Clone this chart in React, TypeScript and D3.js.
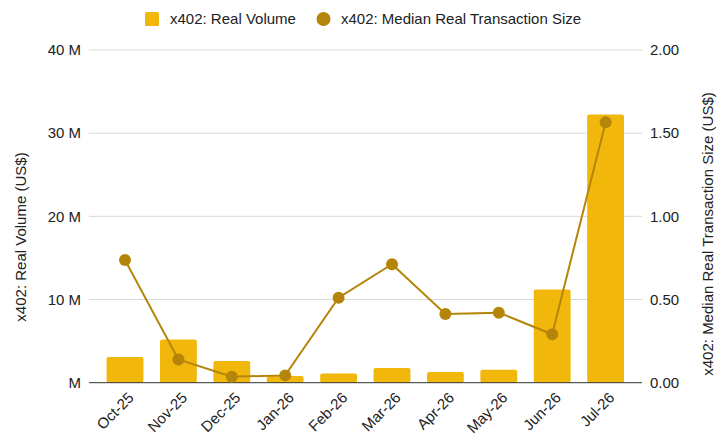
import * as d3 from 'd3';
import React, { useEffect, useRef } from 'react';

// Chart data
const months = ["Oct-25", "Nov-25", "Dec-25", "Jan-26", "Feb-26", "Mar-26", "Apr-26", "May-26", "Jun-26", "Jul-26"];
const realVolume = [3.1e6, 5.2e6, 2.6e6, 0.8e6, 1.1e6, 1.77e6, 1.29e6, 1.56e6, 11.2e6, 32.25e6];
const medianTxSize = [0.738, 0.14, 0.036, 0.044, 0.511, 0.712, 0.413, 0.421, 0.291, 1.565];
const leftTicks = [0, 10e6, 20e6, 30e6, 40e6];
const rightTicks = [0, 0.5, 1, 1.5, 2];

const barColor = "#f1b80b";
const lineColor = "#b5850a";
const font = "Liberation Sans, Arial, sans-serif";

const App: React.FC = () => {
  const ref = useRef<SVGSVGElement>(null);

  useEffect(() => {
    if (!ref.current) return;
    d3.select(ref.current).selectAll("*").remove();

    const width = 728;
    const height = 442;
    const svg = d3.select(ref.current)
      .attr("width", width)
      .attr("height", height)
      .style("font-family", font);

    const gridLeft = 89;
    const gridRight = 642;
    const top = 50;
    const bottom = 382.7;

    const x = d3.scaleBand()
      .domain(months)
      .range([98.3, 632.3])
      .paddingInner(0.31)
      .paddingOuter(0.155);

    const yL = d3.scaleLinear().domain([0, 40e6]).range([bottom, top]);
    const yR = d3.scaleLinear().domain([0, 2]).range([bottom, top]);

    // gridlines
    svg.append("g")
      .selectAll("line")
      .data(leftTicks.slice(1))
      .enter().append("line")
      .attr("x1", gridLeft)
      .attr("x2", gridRight)
      .attr("y1", d => yL(d))
      .attr("y2", d => yL(d))
      .attr("stroke", "#d9d9d9")
      .attr("stroke-width", 1);

    // left tick labels
    svg.append("g")
      .selectAll("text")
      .data(leftTicks)
      .enter().append("text")
      .attr("x", 81)
      .attr("y", d => yL(d))
      .attr("dy", "0.35em")
      .attr("text-anchor", "end")
      .style("font-size", "15px")
      .attr("fill", "#222")
      .text(d => d === 0 ? "M" : `${d / 1e6} M`);

    // right tick labels
    svg.append("g")
      .selectAll("text")
      .data(rightTicks)
      .enter().append("text")
      .attr("x", 650)
      .attr("y", d => yR(d))
      .attr("dy", "0.35em")
      .attr("text-anchor", "start")
      .style("font-size", "15px")
      .attr("fill", "#222")
      .text(d => d.toFixed(2));

    // bars
    svg.append("g")
      .selectAll("rect")
      .data(months)
      .enter().append("rect")
      .attr("x", d => x(d) as number)
      .attr("y", (d, i) => yL(realVolume[i]))
      .attr("width", x.bandwidth())
      .attr("height", (d, i) => bottom - yL(realVolume[i]))
      .attr("rx", 2)
      .attr("fill", barColor);

    // baseline
    svg.append("line")
      .attr("x1", gridLeft)
      .attr("x2", gridRight)
      .attr("y1", bottom)
      .attr("y2", bottom)
      .attr("stroke", "#333")
      .attr("stroke-width", 1);

    // line series
    const cx = (d: string) => (x(d) as number) + x.bandwidth() / 2;
    const line = d3.line<number>()
      .x((d, i) => cx(months[i]))
      .y(d => yR(d));

    svg.append("path")
      .datum(medianTxSize)
      .attr("d", line)
      .attr("fill", "none")
      .attr("stroke", lineColor)
      .attr("stroke-width", 2);

    svg.append("g")
      .selectAll("circle")
      .data(medianTxSize)
      .enter().append("circle")
      .attr("cx", (d, i) => cx(months[i]))
      .attr("cy", d => yR(d))
      .attr("r", 6)
      .attr("fill", lineColor);

    // x labels
    svg.append("g")
      .selectAll("text")
      .data(months)
      .enter().append("text")
      .attr("transform", d => `translate(${cx(d) + 6},${395}) rotate(-45)`)
      .attr("text-anchor", "end")
      .attr("dy", "0.35em")
      .style("font-size", "15px")
      .attr("fill", "#222")
      .text(d => d);

    // axis titles
    svg.append("text")
      .attr("transform", `translate(26,237) rotate(-90)`)
      .attr("text-anchor", "middle")
      .style("font-size", "15px")
      .attr("fill", "#222")
      .text("x402: Real Volume (US$)");

    svg.append("text")
      .attr("transform", `translate(713,234) rotate(-90)`)
      .attr("text-anchor", "middle")
      .style("font-size", "15px")
      .attr("fill", "#222")
      .text("x402: Median Real Transaction Size (US$)");

    // legend
    const legend = svg.append("g");
    legend.append("rect")
      .attr("x", 145).attr("y", 12)
      .attr("width", 14).attr("height", 14)
      .attr("rx", 1.5)
      .attr("fill", barColor);
    legend.append("text")
      .attr("x", 170).attr("y", 19)
      .attr("dy", "0.35em")
      .style("font-size", "15px")
      .attr("fill", "#222")
      .text("x402: Real Volume");
    legend.append("circle")
      .attr("cx", 323.5).attr("cy", 19)
      .attr("r", 7)
      .attr("fill", lineColor);
    legend.append("text")
      .attr("x", 341).attr("y", 19)
      .attr("dy", "0.35em")
      .style("font-size", "15px")
      .attr("fill", "#222")
      .text("x402: Median Real Transaction Size");
  }, []);

  return <svg ref={ref} style={{ display: "block", position: "absolute", left: 0, top: 0 }}></svg>;
};

export default App;
